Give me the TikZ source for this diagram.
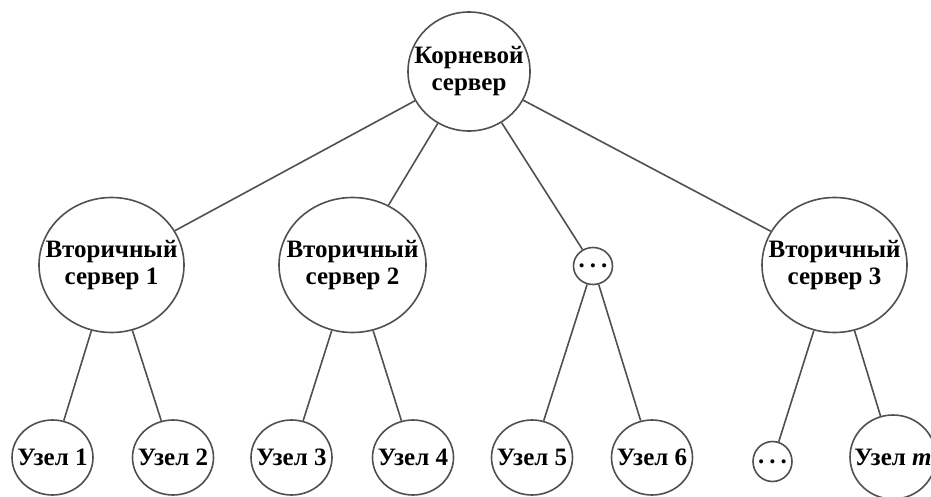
\documentclass[tikz,border=0pt]{standalone}
\usepackage{fontspec}
\setmainfont{Liberation Serif}
\usetikzlibrary{shapes.geometric}
\definecolor{edgegray}{RGB}{80,80,80}
\newcommand{\threedots}{.\kern5pt.\kern5pt.}

\begin{document}
\begin{tikzpicture}[x=1pt,y=1pt]
\tikzstyle{every node}+=[inner sep=0pt]
\tikzstyle{every label}=[align=center, font=\fontsize{25}{27}\selectfont\bfseries]
\tikzstyle{srv}=[draw=edgegray, line width=1.6pt, ellipse, minimum width=145, minimum height=135]
\tikzstyle{leaf}=[srv, minimum width=81, minimum height=75]
\tikzstyle{dots}=[srv, minimum width=39, minimum height=37]
\tikzstyle{link}=[draw=edgegray, line width=1.6pt]
\clip (0,0) rectangle (931,-497);
\fill [white] (0,0) rectangle (931,-497);
% root and secondary servers
\node [srv, minimum width=122, minimum height=119, label=center:{Корневой\\сервер}] (root) at (469,-71.5) {};
\node [srv, label=center:{Вторичный\\сервер 1}] (s1) at (111.5,-265) {};
\node [srv, minimum width=147, label=center:{Вторичный\\сервер 2}] (s2) at (352.5,-265) {};
\node [dots, label=center:{\threedots}] (sd) at (593,-266) {};
\node [srv, label=center:{Вторичный\\сервер 3}] (s3) at (834.5,-265) {};
% leaves
\node [leaf, label=center:{Узел 1}] (l1) at (52.5,-457.5) {};
\node [leaf, label=center:{Узел 2}] (l2) at (173,-457.5) {};
\node [leaf, label=center:{Узел 3}] (l3) at (291.5,-457.5) {};
\node [leaf, label=center:{Узел 4}] (l4) at (413,-457.5) {};
\node [leaf, label=center:{Узел 5}] (l5) at (532,-457.5) {};
\node [leaf, label=center:{Узел 6}] (l6) at (652,-457.5) {};
\node [dots, minimum height=40, label=center:{\threedots}] (ld) at (772.5,-461.5) {};
\node [leaf, minimum width=86, minimum height=84, label=center:{Узел \textit{m}}] (lm) at (893,-457) {};
% links
\draw [link] (root) -- (s1);
\draw [link] (root) -- (s2);
\draw [link] (root) -- (sd);
\draw [link] (root) -- (s3);
\draw [link] (s1) -- (l1);
\draw [link] (s1) -- (l2);
\draw [link] (s2) -- (l3);
\draw [link] (s2) -- (l4);
\draw [link] (sd) -- (l5);
\draw [link] (sd) -- (l6);
\draw [link] (s3) -- (ld);
\draw [link] (s3) -- (lm);
\end{tikzpicture}
\end{document}
